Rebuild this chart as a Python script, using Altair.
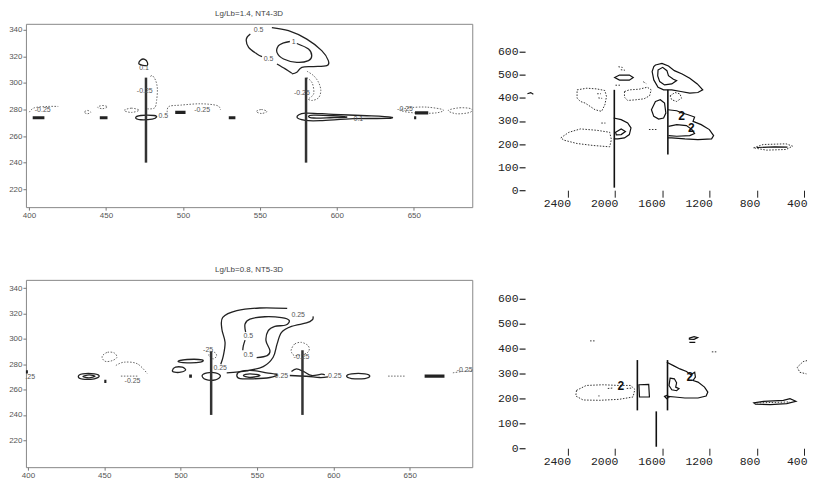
import altair as alt
import pandas as pd

# ---------------- titles, ticks, domains ----------------
TL_TITLE = "Lg/Lb=1.4, NT4-3D"
BL_TITLE = "Lg/Lb=0.8, NT5-3D"

LEFT_X_TICKS = [400, 450, 500, 550, 600, 650]
LEFT_Y_TICKS = [220, 240, 260, 280, 300, 320, 340]
RIGHT_X_TICKS = [2400, 2000, 1600, 1200, 800, 400]
RIGHT_Y_TICKS = [0, 100, 200, 300, 400, 500, 600]

TL_X_DOMAIN = [398, 688]
TL_Y_DOMAIN = [206.5, 344.5]
BL_X_DOMAIN = [398.7, 691]
BL_Y_DOMAIN = [198.8, 346.5]
TR_X_DOMAIN = [375, 2760]
TR_Y_DOMAIN = [0, 721]
BR_X_DOMAIN = [375, 2760]
BR_Y_DOMAIN = [0, 676]

# ---------------- top-left: Lg/Lb=1.4, NT4-3D ----------------
TL_VLINES = [(476, 240, 304), (580, 240, 304)]
TL_SOLID_OPEN = [
    [(557.8, 341.7), (568.6, 339.3), (580.5, 333.0), (590.2, 324.3), (594.5, 316.8), (593.5, 313.0),
     (584.8, 312.3), (577.3, 311.8), (574.0, 308.0), (570.8, 306.8)],
    [(543.8, 336.8), (541.2, 333.0), (542.7, 326.8), (548.1, 321.8), (551.4, 319.8)],
    [(561.1, 314.3), (566.5, 310.6), (570.8, 307.3)],
    [(574.0, 329.7), (581.6, 325.5), (583.7, 320.5), (581.6, 316.8), (574.0, 315.5), (565.4, 318.0),
     (561.1, 323.0), (562.1, 328.0), (565.5, 330.2), (569.5, 331.2)],
]
TL_SOLID_CLOSED = [
    [(471.5, 314.3), (472.6, 317.3), (475.2, 317.8), (476.9, 315.5), (476.5, 313.0)],
    [(469.3, 273.8), (472.6, 275.5), (481.2, 275.5), (482.9, 274.3), (480.1, 272.8), (472.6, 272.3)],
    [(574.1, 274.3), (579.5, 277.3), (597.8, 276.3), (619.4, 275.3), (635.0, 274.3), (632.4, 273.3),
     (610.8, 273.1), (589.2, 271.6), (579.5, 271.8)],
    [(581.6, 274.8), (584.9, 275.8), (597.8, 275.3), (606.5, 274.3), (595.7, 273.8), (584.9, 273.6)],
]
TL_THICK = [
    [(402.4, 273.8), (410.0, 273.8)],
    [(446.0, 273.8), (451.0, 273.8)],
    [(495.0, 277.8), (501.7, 277.8)],
    [(529.8, 273.8), (534.1, 273.8)],
    [(650.8, 277.5), (659.4, 277.5)],
    [(650.2, 273.8), (651.6, 273.8)],
]
TL_DOTTED_OPEN = [
    [(400.2, 278.0), (403.5, 281.3), (412.1, 282.3), (419.0, 282.3)],
    [(476.9, 280.5), (481.6, 281.2), (482.9, 286.8), (483.4, 295.5), (482.3, 301.8), (480.1, 305.5), (478.4, 304.3)],
    [(580.6, 308.8), (584.9, 305.5), (588.1, 300.5), (589.6, 294.3), (588.1, 288.8), (583.8, 286.8), (581.0, 288.0)],
    [(580.5, 304.0), (584.0, 300.0), (585.0, 292.0), (582.0, 288.5)],
    [(489.8, 278.0), (490.9, 282.3), (498.5, 283.3), (511.4, 284.3), (522.2, 283.0), (524.4, 279.8)],
]
TL_DOTTED_CLOSED = [
    [(435.9, 278.0), (438.0, 279.3), (440.2, 278.0), (438.0, 276.8)],
    [(444.5, 281.8), (447.7, 283.0), (451.0, 282.0), (447.7, 280.6)],
    [(461.8, 279.3), (466.5, 281.0), (471.5, 279.5), (466.5, 277.8)],
    [(547.7, 278.5), (551.0, 280.0), (554.6, 278.5), (551.0, 277.0)],
    [(641.0, 279.3), (647.5, 281.3), (658.3, 281.8), (669.1, 279.8), (664.8, 277.5), (651.8, 277.3)],
    [(672.4, 279.3), (679.9, 281.3), (687.5, 280.5), (686.4, 277.8), (677.8, 276.8)],
]
TL_LABELS = [
    (549.2, 339.8, "0.5"), (555.6, 318.0, "0.5"), (572.0, 330.8, "1"), (474.7, 311.3, "0.1"),
    (475.2, 294.3, "-0.25"), (577.3, 292.3, "-0.25"), (408.9, 279.3, "-0.25"), (487.3, 274.8, "0.5"),
    (512.5, 279.3, "-0.25"), (614.0, 272.6, "0.1"), (644.3, 280.0, "-0.25"),
]

# ---------------- bottom-left: Lg/Lb=0.8, NT5-3D ----------------
BL_VLINES = [(520, 240, 290), (579.8, 240, 291)]
BL_SOLID_OPEN = [
    [(569.8, 324.0), (551.9, 324.3), (536.8, 322.2), (527.6, 316.9), (527.0, 307.8), (529.1, 297.3),
     (528.0, 286.8), (526.3, 280.0)],
    [(530.2, 273.2), (543.3, 274.8), (554.1, 278.1), (560.6, 285.5), (563.2, 296.0), (566.1, 305.1),
     (572.6, 309.8), (582.4, 312.5), (586.3, 315.1), (586.7, 317.7)],
    [(542.6, 305.4), (542.2, 311.7), (545.4, 315.6), (555.2, 317.4), (566.1, 316.7), (571.1, 314.5),
     (568.9, 310.9), (561.7, 309.8), (557.4, 306.4), (555.9, 298.6), (558.5, 290.7), (556.7, 286.8),
     (549.8, 285.2)],
    [(542.2, 299.0), (541.1, 294.6), (540.7, 291.0)],
    [(572.6, 274.2), (575.9, 276.3), (580.7, 274.2), (585.7, 271.1), (592.2, 272.1), (594.4, 271.6)],
    [(571.5, 271.1), (582.4, 270.5), (591.1, 269.5), (596.5, 270.0)],
]
BL_SOLID_CLOSED = [
    [(498.3, 282.1), (504.3, 283.7), (514.1, 283.4), (513.0, 281.6), (504.3, 281.1)],
    [(514.1, 271.1), (517.4, 273.2), (522.8, 273.2), (526.1, 270.6), (522.8, 267.7), (516.3, 268.0)],
    [(433.0, 270.3), (435.9, 272.4), (443.5, 272.4), (446.7, 270.6), (443.5, 268.5), (435.9, 268.2)],
    [(436.0, 270.3), (440.0, 271.5), (444.0, 270.5), (440.0, 269.2)],
    [(494.6, 275.0), (496.7, 277.6), (501.1, 277.6), (503.3, 275.5), (500.0, 273.7), (496.1, 273.7)],
    [(536.8, 271.1), (538.9, 274.2), (547.6, 275.0), (556.3, 273.2), (563.2, 271.6), (558.5, 269.5),
     (547.6, 268.5), (538.9, 268.7)],
    [(541.1, 271.1), (545.4, 272.4), (552.0, 271.1), (545.4, 269.5)],
    [(608.7, 270.6), (612.0, 272.4), (620.7, 272.4), (623.9, 270.6), (620.7, 268.7), (612.0, 268.7)],
]
BL_THICK = [
    [(659.8, 270.6), (672.8, 270.6)],
    [(450.0, 266.4), (451.4, 266.4)],
    [(505.6, 270.6), (507.4, 270.6)],
    [(397.5, 274.0), (400.0, 274.0)],
]
BL_DOTTED_OPEN = [
    [(457.6, 279.0), (463.0, 281.6), (471.7, 280.3), (478.3, 272.4)],
    [(678.3, 273.2), (684.8, 274.3), (691.3, 274.8)],
    [(635.9, 270.6), (646.7, 270.6)],
    [(460.9, 270.6), (471.7, 270.6)],
]
BL_DOTTED_CLOSED = [
    [(448.9, 286.8), (452.2, 289.4), (456.5, 288.9), (458.3, 285.5), (455.4, 282.9), (451.1, 282.1), (448.9, 284.2)],
    [(572.6, 292.0), (574.8, 296.0), (579.2, 297.2), (583.5, 294.6), (584.1, 290.7), (581.3, 288.1),
     (574.8, 286.8), (572.6, 289.4)],
    [(518.5, 286.8), (520.0, 289.9), (522.8, 288.9), (523.5, 286.3), (521.3, 284.2)],
]
BL_LABELS = [
    (577.0, 319.0, "0.25"), (525.9, 277.0, "0.25"), (544.3, 302.6, "0.5"), (544.3, 287.5, "0.5"),
    (566.0, 270.3, "0.25"), (579.2, 286.0, "-0.25"), (601.0, 270.3, "0.25"), (686.0, 275.5, "-0.25"),
    (468.5, 266.4, "-0.25"), (401.5, 270.0, ".25"), (518.0, 291.5, "-25"),
]

# ---------------- top-right ----------------
TR_VLINES = [(2005, 11, 435), (1552, 155, 435)]
TR_SOLID_OPEN = [
    [(2010, 312.8), (1947, 305.7), (1892, 291.3), (1864, 269.8), (1878, 241.0), (1919, 226.7),
     (1975, 222.4), (2010, 222.4)],
    [(1552, 348.7), (1477, 344.4), (1431, 334.4), (1381, 327.2), (1326, 317.1), (1339, 298.5),
     (1270, 284.1), (1201, 262.6), (1165, 236.8), (1182, 222.4), (1298, 219.6), (1408, 222.4),
     (1519, 226.7), (1552, 226.7)],
    [(1547, 276.9), (1477, 284.1), (1395, 279.8), (1348, 262.6), (1326, 245.4), (1367, 236.8),
     (1477, 233.9), (1547, 236.8)],
    [(2740, 418), (2712, 423), (2690, 416)],
    [(800, 185), (650, 188), (540, 187)],
]
TR_SOLID_CLOSED = [
    [(2002, 488), (1961, 499), (1878, 499), (1845, 488), (1878, 477), (1961, 477)],
    [(1994, 251.0), (1947, 265.5), (1911, 254.0), (1947, 241.0), (1988, 239.6)],
    [(1657, 542.4), (1602, 549.6), (1547, 538.0), (1497, 518.0), (1431, 503.7), (1367, 485.0),
     (1303, 460.6), (1257, 434.8), (1298, 423.3), (1367, 420.5), (1442, 427.6), (1519, 434.8),
     (1588, 434.8), (1635, 446.3), (1671, 477.9), (1685, 513.8), (1671, 535.3)],
    [(1635, 520.8), (1596, 532.4), (1560, 518.0), (1547, 496.5), (1505, 480.7), (1478, 475.0),
     (1519, 460.6), (1580, 456.3), (1621, 470.7), (1638, 495.0)],
    [(1657, 384.6), (1616, 391.8), (1580, 377.4), (1569, 334.4), (1588, 312.8), (1630, 308.5),
     (1671, 320.0), (1691, 348.7)],
]
TR_DOTTED_CLOSED = [
    [(2320, 434.8), (2237, 442.0), (2154, 439.0), (2085, 432.0), (2071, 406.0), (2085, 370.0),
     (2113, 341.6), (2168, 348.7), (2209, 363.0), (2251, 377.4), (2292, 384.6), (2320, 398.9)],
    [(2458, 226.7), (2389, 251.0), (2292, 265.5), (2154, 259.7), (2044, 251.0), (2030, 219.6),
     (2044, 188.0), (2182, 193.7), (2320, 202.3), (2430, 216.7)],
    [(1919, 427.6), (1878, 434.8), (1795, 437.7), (1726, 446.3), (1693, 434.8), (1707, 409.0),
     (1754, 396.0), (1823, 391.8), (1892, 388.9), (1919, 403.2)],
    [(1533, 409.0), (1492, 423.3), (1450, 417.6), (1436, 398.9), (1478, 384.6), (1519, 391.8)],
    [(828, 183.7), (746, 198.0), (552, 201.0), (497, 190.9), (552, 176.5), (718, 173.6)],
]
TR_DOTTED_OPEN = [
    [(2150, 418), (2118, 418)],
    [(2140, 400), (2108, 398)],
    [(2115, 291), (2080, 291)],
    [(1712, 263), (1645, 263)],
    [(1760, 470), (1735, 462)],
    [(1970, 535), (1935, 532)],
    [(1950, 522), (1915, 520)],
    [(1995, 455), (1955, 455)],
]
TR_LABELS = [(1436, 320.4, "2"), (1353, 268.0, "2")]

# ---------------- bottom-right ----------------
BR_VLINES = [(1810, 152, 354), (1555, 152, 354), (1650, 6, 148)]
BR_SOLID_OPEN = [
    [(1561, 345.0), (1505, 331.8), (1450, 318.5), (1394, 307.9), (1358, 294.6), (1325, 305.2),
     (1319, 285.3), (1339, 272.0), (1297, 265.4), (1242, 245.5), (1214, 225.6), (1228, 209.7),
     (1297, 201.7), (1408, 201.7), (1492, 205.7), (1555, 208.3)],
    [(1370, 425), (1320, 425)],
]
BR_SOLID_CLOSED = [
    [(1797, 254.8), (1714, 256.1), (1708, 205.7), (1792, 205.7)],
    [(1533, 281.3), (1497, 278.7), (1478, 262.7), (1486, 245.5), (1458, 238.9), (1478, 230.9),
     (1519, 234.9), (1542, 252.1)],
    [(1580, 208.3), (1561, 212.3), (1542, 205.7), (1561, 199.1)],
    [(1370, 442), (1330, 448), (1300, 444), (1330, 437), (1370, 438)],
    [(825, 181.8), (742, 188.4), (575, 192.4), (519, 199.0), (469, 188.4), (547, 179.1), (686, 175.2),
     (811, 176.5)],
]
BR_DOTTED_CLOSED = [
    [(2325, 232.2), (2242, 252.1), (2103, 254.8), (1964, 252.1), (1867, 252.1), (1831, 236.2),
     (1847, 205.7), (1964, 196.4), (2131, 192.4), (2269, 193.7), (2331, 209.7)],
]
BR_DOTTED_OPEN = [
    [(325, 358.0), (408, 347.7), (458, 325.0), (436, 305.0), (380, 298.6)],
    [(800, 182), (650, 184), (520, 186)],
    [(2210, 431), (2160, 431)],
    [(1180, 387), (1140, 387)],
    [(2060, 240), (2010, 242)],
    [(2140, 210), (2130, 210)],
    [(1900, 240), (1850, 242)],
]
BR_LABELS = [(1950, 249.5, "2"), (1367, 285.3, "2")]


def frame(paths):
    rows = [{"pid": k, "i": i, "x": x, "y": y}
            for k, p in enumerate(paths) for i, (x, y) in enumerate(p)]
    return pd.DataFrame(rows, columns=["pid", "i", "x", "y"])


def panel(kind, xdom, ydom, width, height, xticks, yticks, groups, vlines, labels,
          rule_style, text_style, title=None):
    if kind == "left":
        common = dict(grid=False, domain=False, tickSize=3, tickColor="#777", tickWidth=1,
                      labelFont="Liberation Sans", labelFontSize=8, labelColor="#555",
                      labelPadding=1, title=None, format="d")
        xaxis = alt.Axis(values=xticks, **common)
        yaxis = alt.Axis(values=yticks, **common)
        reverse = False
    else:
        xaxis = alt.Axis(values=xticks, grid=False, domain=False, tickSize=7, tickColor="#222",
                         tickWidth=1, labelFont="Liberation Mono", labelFontSize=11.5,
                         labelColor="#222", labelAlign="right", labelOffset=3, labelBaseline="top",
                         labelPadding=0, title=None, format="d")
        yaxis = alt.Axis(values=yticks, grid=False, domain=False, tickSize=6, tickColor="#222",
                         tickWidth=1.2, labelFont="Liberation Mono", labelFontSize=11.5,
                         labelColor="#222", labelPadding=1, title=None, format="d")
        reverse = True
    xenc = alt.X("x:Q", scale=alt.Scale(domain=xdom, nice=False, zero=False, reverse=reverse), axis=xaxis)
    yenc = alt.Y("y:Q", scale=alt.Scale(domain=ydom, nice=False, zero=False), axis=yaxis)

    layers = []
    for paths, props in groups:
        if not paths:
            continue
        layers.append(
            alt.Chart(frame(paths)).mark_line(clip=True, **props).encode(
                x=xenc, y=yenc, detail="pid:N", order=alt.Order("i:Q"))
        )
    vdf = pd.DataFrame(vlines, columns=["x", "y", "y2"])
    layers.append(alt.Chart(vdf).mark_rule(**rule_style).encode(x=xenc, y=yenc, y2="y2:Q"))
    ldf = pd.DataFrame(labels, columns=["x", "y", "t"])
    layers.append(alt.Chart(ldf).mark_text(**text_style).encode(x=xenc, y=yenc, text="t:N"))

    props = dict(width=width, height=height)
    if title is not None:
        props["title"] = alt.TitleParams(text=title, fontSize=8, fontWeight="normal",
                                         font="Liberation Sans", color="#444", offset=6,
                                         anchor="middle")
        props["view"] = alt.ViewBackground(stroke="#888", strokeWidth=1)
    return alt.layer(*layers).properties(**props)


def left_groups(solid_open, solid_closed, dotted_open, dotted_closed, thick):
    solid = dict(color="#222", strokeWidth=1.3)
    dotted = dict(color="#666", strokeWidth=1, strokeDash=[1.5, 1.5])
    return [
        (solid_open, dict(interpolate="cardinal", **solid)),
        (solid_closed, dict(interpolate="cardinal-closed", **solid)),
        (dotted_open, dict(interpolate="cardinal", **dotted)),
        (dotted_closed, dict(interpolate="cardinal-closed", **dotted)),
        (thick, dict(color="#222", strokeWidth=3.2)),
    ]


def right_groups(solid_open, solid_closed, dotted_open, dotted_closed):
    solid = dict(color="#111", strokeWidth=1.2)
    dotted = dict(color="#333", strokeWidth=1, strokeDash=[1.5, 1.5])
    return [
        (solid_open, dict(interpolate="linear", **solid)),
        (solid_closed, dict(interpolate="linear-closed", **solid)),
        (dotted_open, dict(interpolate="linear", **dotted)),
        (dotted_closed, dict(interpolate="linear-closed", **dotted)),
    ]


left_rule = dict(color="#333", strokeWidth=2.5)
left_text = dict(font="Liberation Sans", fontSize=7, color="#555")
right_rule = dict(color="#111", strokeWidth=1.6)
right_text = dict(font="Liberation Mono", fontSize=12, fontWeight="bold", color="#111")

tl = panel("left", TL_X_DOMAIN, TL_Y_DOMAIN, 448, 184, LEFT_X_TICKS, LEFT_Y_TICKS,
           left_groups(TL_SOLID_OPEN, TL_SOLID_CLOSED, TL_DOTTED_OPEN, TL_DOTTED_CLOSED, TL_THICK),
           TL_VLINES, TL_LABELS, left_rule, left_text, title=TL_TITLE)
bl = panel("left", BL_X_DOMAIN, BL_Y_DOMAIN, 448, 188, LEFT_X_TICKS, LEFT_Y_TICKS,
           left_groups(BL_SOLID_OPEN, BL_SOLID_CLOSED, BL_DOTTED_OPEN, BL_DOTTED_CLOSED, BL_THICK),
           BL_VLINES, BL_LABELS, left_rule, left_text, title=BL_TITLE)
tr = panel("right", TR_X_DOMAIN, TR_Y_DOMAIN, 283, 167, RIGHT_X_TICKS, RIGHT_Y_TICKS,
           right_groups(TR_SOLID_OPEN, TR_SOLID_CLOSED, TR_DOTTED_OPEN, TR_DOTTED_CLOSED),
           TR_VLINES, TR_LABELS, right_rule, right_text)
br = panel("right", BR_X_DOMAIN, BR_Y_DOMAIN, 283, 169, RIGHT_X_TICKS, RIGHT_Y_TICKS,
           right_groups(BR_SOLID_OPEN, BR_SOLID_CLOSED, BR_DOTTED_OPEN, BR_DOTTED_CLOSED),
           BR_VLINES, BR_LABELS, right_rule, right_text)

chart = alt.vconcat(
    alt.hconcat(tl, tr, spacing=23),
    alt.hconcat(bl, br, spacing=23),
    spacing=45,
).properties(padding=0, background="white").configure_view(stroke="transparent")

chart.save("out.html", embed_options={"renderer": "svg", "actions": False})
